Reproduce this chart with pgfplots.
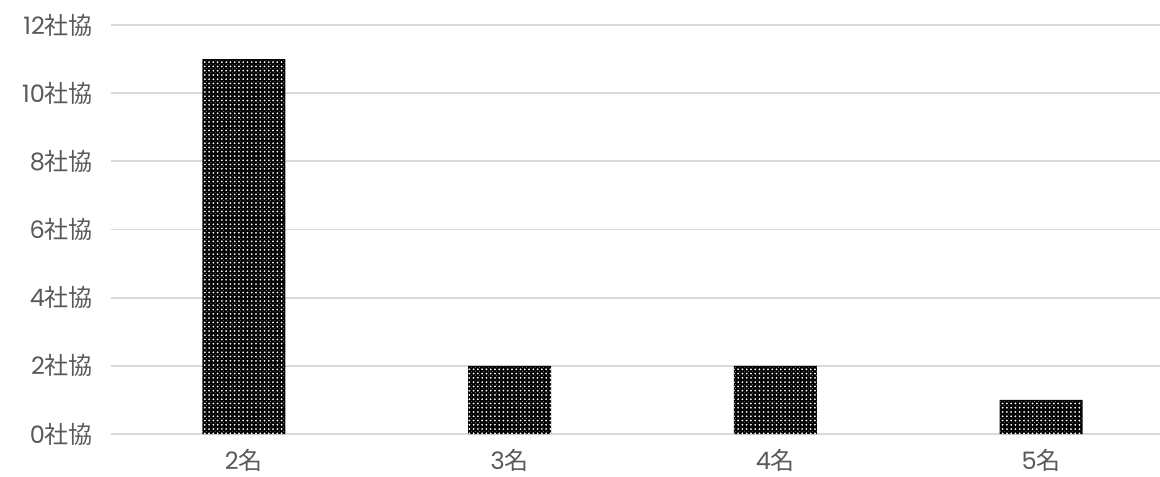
\documentclass[border=0pt]{standalone}
\usepackage{pgfplots}
\pgfplotsset{compat=1.18}
\usepackage{fontspec}
\setmainfont{Noto Sans CJK JP}
\newfontfamily\digitfont{Poppins}
\usetikzlibrary{patterns}
\definecolor{txt}{HTML}{595959}
\definecolor{gridc}{HTML}{D9D9D9}
\pgfdeclarepatternformonly{finedots}{\pgfqpoint{-1.5pt}{-1.5pt}}{\pgfqpoint{1.5pt}{1.5pt}}{\pgfqpoint{3.2pt}{3.2pt}}{%
  \pgfpathcircle{\pgfqpoint{0pt}{0pt}}{0.75pt}\pgfusepath{fill}%
  \pgfpathcircle{\pgfqpoint{1.6pt}{1.6pt}}{0.45pt}\pgfusepath{fill}%
}
\begin{document}
\begin{tikzpicture}
\path[use as bounding box, clip] (0,0) rectangle (870pt,357pt);
\fill[white] (0,0) rectangle (870pt,357pt);
\begin{axis}[
  at={(83.25pt,31.5pt)}, anchor=south west,
  scale only axis,
  width=786.75pt, height=306.75pt,
  xmin=-0.5, xmax=3.447,
  ymin=0, ymax=12,
  ytick={0,2,...,12},
  xtick={0,1,2,3},
  xticklabels={{\digitfont 2}名,{\digitfont 3}名,{\digitfont 4}名,{\digitfont 5}名},
  yticklabel={{\digitfont\pgfmathprintnumber{\tick}}社協},
  /pgf/number format/assume math mode=true,
  axis line style={draw=none},
  major tick length=0pt,
  xmajorgrids=false,
  ymajorgrids=true,
  major grid style={draw=gridc, line width=1.3pt},
  ticklabel style={font=\fontsize{18pt}{21pt}\selectfont, text=txt},
  yticklabel style={xshift=-10pt},
  xticklabel style={yshift=-8pt},
  clip=false,
]
\addplot[ybar, bar width=0.3125, draw=none, fill=black,
  postaction={pattern=finedots, pattern color=white}]
  coordinates {(0,11) (1,2) (2,2) (3,1)};
\end{axis}
\end{tikzpicture}
\end{document}
